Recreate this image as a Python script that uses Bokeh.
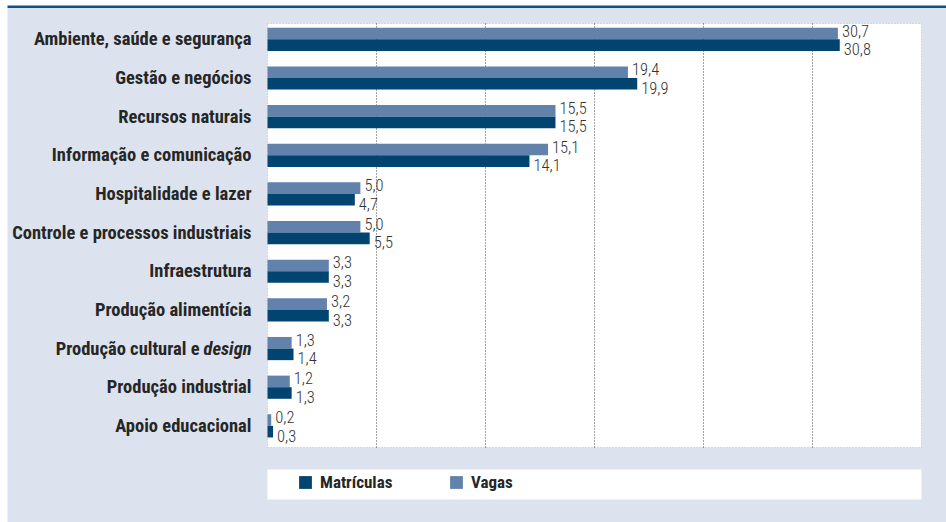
from bokeh.plotting import figure
from bokeh.models import (Range1d, BoxAnnotation, Legend, LegendItem,
                          ColumnDataSource)
from bokeh.core.properties import value
from bokeh.embed import file_html
from bokeh.resources import INLINE

# ---- data (top to bottom) ----
categories = [
    "Ambiente, saúde e segurança",
    "Gestão e negócios",
    "Recursos naturais",
    "Informação e comunicação",
    "Hospitalidade e lazer",
    "Controle e processos industriais",
    "Infraestrutura",
    "Produção alimentícia",
    "Produção cultural e design",
    "Produção industrial",
    "Apoio educacional",
]
vagas = [30.7, 19.4, 15.5, 15.1, 5.0, 5.0, 3.3, 3.2, 1.3, 1.2, 0.2]
matriculas = [30.8, 19.9, 15.5, 14.1, 4.7, 5.5, 3.3, 3.3, 1.4, 1.3, 0.3]
series_names = ["Matrículas", "Vagas"]
italic_word = "design"

# ---- styles / layout ----
FONT = "Roboto Condensed, DejaVu Sans Condensed, Liberation Sans Narrow, Roboto"
FONT_LIGHT = "Roboto Condensed Light, Roboto Condensed, DejaVu Sans Condensed, Roboto"
BG = "#dce3ee"
C_MAT = "#00446f"
C_VAG = "#6282ab"
TOP_LINE = "#0d5287"
TXT = "#262626"
GRID = "#444444"

FIG_W, FIG_H = 946, 522
PLOT_L, PLOT_T, PLOT_W, PLOT_H = 267, 23, 654, 424
XMAX = 35.2
n = len(categories)
Y0, Y1 = -0.56, n - 1 + 0.41
sx = PLOT_W / XMAX
sy = PLOT_H / (Y1 - Y0)

ypos = [n - 1 - i for i in range(n)]
bar_h = 0.3


def fmt(v):
    return f"{v:.1f}".replace(".", ",")


src_v = ColumnDataSource(dict(y=[y + bar_h / 2 for y in ypos], right=vagas,
                              label=[fmt(v) for v in vagas]))
src_m = ColumnDataSource(dict(y=[y - bar_h / 2 for y in ypos], right=matriculas,
                              label=[fmt(v) for v in matriculas]))

p = figure(width=FIG_W, height=FIG_H, min_border=0,
           x_range=Range1d(-PLOT_L / sx, (FIG_W - PLOT_L) / sx),
           y_range=Range1d(Y0 - (FIG_H - PLOT_T - PLOT_H) / sy, Y1 + PLOT_T / sy),
           x_axis_location=None, y_axis_location=None,
           output_backend="svg", toolbar_location=None,
           border_fill_color="white", background_fill_color="white",
           outline_line_color=None)
p.grid.visible = False

# panel background and top rule
p.add_layout(BoxAnnotation(left=7, right=FIG_W, top=FIG_H - 7.3, bottom=0,
                           left_units="screen", right_units="screen",
                           top_units="screen", bottom_units="screen",
                           fill_color=BG, fill_alpha=1, line_color=None,
                           level="image"))
p.add_layout(BoxAnnotation(left=7, right=FIG_W, top=FIG_H - 5, bottom=FIG_H - 7.5,
                           left_units="screen", right_units="screen",
                           top_units="screen", bottom_units="screen",
                           fill_color=TOP_LINE, fill_alpha=1, line_color=None,
                           level="image"))

# white plot area
p.quad(left=0, right=XMAX, bottom=Y0, top=Y1, fill_color="white",
       line_color=None, level="underlay")

# vertical dotted grid lines inside the plot area
grid_ticks = [XMAX * k / 6 for k in range(1, 6)]
p.segment(x0=grid_ticks, x1=grid_ticks, y0=[Y0] * 5, y1=[Y1] * 5,
          line_color=GRID, line_dash="1 2", line_width=1, level="underlay")

r_v = p.hbar(y="y", right="right", left=0, height=bar_h, source=src_v,
             fill_color=C_VAG, line_color=None)
r_m = p.hbar(y="y", right="right", left=0, height=bar_h, source=src_m,
             fill_color=C_MAT, line_color=None)

# dotted border of plot area
p.add_layout(BoxAnnotation(left=0, right=XMAX, bottom=Y0, top=Y1,
                           fill_alpha=0, line_color=GRID, line_dash="1 2",
                           line_width=1))

# value labels
p.text(x="right", y="y", text="label", source=src_v, x_offset=4, y_offset=-3,
       text_font=value(FONT_LIGHT), text_font_size="16.5px",
       text_baseline="middle", text_color="#333333")
p.text(x="right", y="y", text="label", source=src_m, x_offset=4, y_offset=4,
       text_font=value(FONT_LIGHT), text_font_size="16.5px",
       text_baseline="middle", text_color="#333333")

# category labels
heads, head_off, tails_y, tails = [], [], [], []
for y, name in zip(ypos, categories):
    if name.endswith(" " + italic_word):
        heads.append(name[: -len(italic_word) - 1])
        head_off.append(-16 - 48 - 4)
        tails_y.append(y)
        tails.append(italic_word)
    else:
        heads.append(name)
        head_off.append(-16)
src_c = ColumnDataSource(dict(x=[0] * n, y=ypos, text=heads, xo=head_off))
p.text(x="x", y="y", text="text", x_offset="xo", source=src_c,
       text_align="right", text_baseline="middle", text_font=value(FONT),
       text_font_size="18.5px", text_font_style="bold", text_color=TXT)
p.text(x=[0] * len(tails), y=tails_y, text=tails, x_offset=-16,
       text_align="right", text_baseline="middle", text_font=value(FONT),
       text_font_size="18.5px", text_font_style="bold italic", text_color=TXT)

# white legend box
p.add_layout(BoxAnnotation(left=PLOT_L, right=PLOT_L + PLOT_W, top=53, bottom=23,
                           left_units="screen", right_units="screen",
                           top_units="screen", bottom_units="screen",
                           fill_color="white", fill_alpha=1, line_color=None,
                           level="underlay"))

legend = Legend(items=[LegendItem(label=series_names[0], renderers=[r_m]),
                       LegendItem(label=series_names[1], renderers=[r_v])],
                orientation="horizontal", location=(PLOT_L + 23, 23),
                padding=7, margin=0, spacing=18, label_width=110,
                glyph_width=16, glyph_height=16, label_standoff=7,
                background_fill_alpha=0, border_line_alpha=0,
                label_text_font=FONT, label_text_font_size="17px",
                label_text_font_style="bold", label_text_color=TXT)
p.add_layout(legend, "center")

open("out.html", "w").write(file_html(p, INLINE))
